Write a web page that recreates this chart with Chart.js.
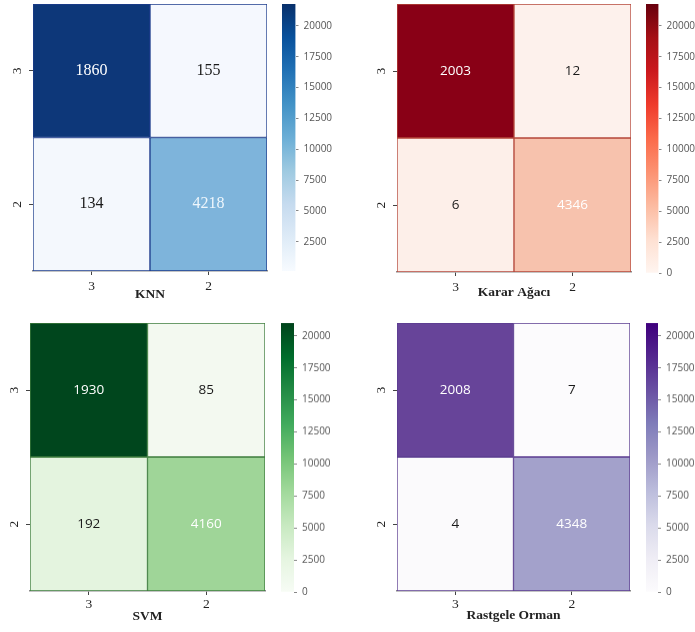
<!DOCTYPE html>
<html>
<head>
<meta charset="utf-8">
<script src="https://cdn.jsdelivr.net/npm/chart.js@4.4.0/dist/chart.umd.min.js"></script>
<style>
body { margin: 0; width: 695px; height: 632px; overflow: hidden; background: #fff; position: relative; }
canvas { position: absolute; }
</style>
</head>
<body>
<script>
// veriler
var xLabels = ['3', '2'];
var yLabels = ['3', '2'];
var basliklar = ['KNN', 'Karar Ağacı', 'SVM', 'Rastgele Orman'];
var knnValues = [[1860, 155], [134, 4218]];
var agacValues = [[2003, 12], [6, 4346]];
var svmValues = [[1930, 85], [192, 4160]];
var ormanValues = [[2008, 7], [4, 4348]];
var cbTicks = [0, 2500, 5000, 7500, 10000, 12500, 15000, 17500, 20000];
var cbMin = [134, 0, 0, 0];
var cbMax = [21780, 21770, 21000, 21000];

var matrisler = [knnValues, agacValues, svmValues, ormanValues];

// renk haritalari
var blues = ['#f7fbff', '#deebf7', '#c6dbef', '#9ecae1', '#6baed6', '#4292c6', '#2171b5', '#08519c', '#08306b'];
var reds = ['#fff5f0', '#fee0d2', '#fcbba1', '#fc9272', '#fb6a4a', '#ef3b2c', '#cb181d', '#a50f15', '#67000d'];
var greens = ['#f7fcf5', '#e5f5e0', '#c7e9c0', '#a1d99b', '#74c476', '#41ab5d', '#238b45', '#006d2c', '#00441b'];
var purples = ['#fcfbfd', '#efedf5', '#dadaeb', '#bcbddc', '#9e9ac8', '#807dba', '#6a51a3', '#54278f', '#3f007d'];

var koyu = '#1a1a1a';
var paneller = [
    { area: [33, 4, 267, 271], titleY: 295, tickPad: 3, bar: [281.5, 295], barY: [4, 271],
      cellFont: '16px "Liberation Serif"', line: '#1d3d8c', cmap: blues,
      cells: [['#0d3779', '#f5f8fe'], ['#f4f8fd', '#7eb4db']],
      text: [['#ffffff', koyu], [koyu, '#eef6fc']] },
    { area: [397, 4, 631, 272], titleY: 293, tickPad: 3, bar: [646, 658.5], barY: [4, 273],
      cellFont: '13.5px "Open Sans"', line: '#b5473b', cmap: reds,
      cells: [['#890016', '#fdf1ec'], ['#fdefe9', '#f7c2ad']],
      text: [['#ffffff', koyu], [koyu, '#ffffff']] },
    { area: [30, 323, 265, 591], titleY: 617, tickPad: 1, bar: [281, 294], barY: [323, 591.7],
      cellFont: '13.5px "Open Sans"', line: '#3e7d3e', cmap: greens,
      cells: [['#00461d', '#f3f9f0'], ['#e4f4df', '#9fd598']],
      text: [['#ffffff', koyu], [koyu, '#ffffff']] },
    { area: [397, 323, 630, 591], titleY: 616, tickPad: 1, bar: [646, 658], barY: [323, 591.7],
      cellFont: '13.5px "Open Sans"', line: '#5b3d90', cmap: purples,
      cells: [['#674499', '#fcfbfd'], ['#fbfafc', '#a3a1cb']],
      text: [['#ffffff', koyu], [koyu, '#ffffff']] }
];

var hucreYazisi = {
    id: 'hucreYazisi',
    afterDatasetsDraw: function (chart) {
        var ctx = chart.ctx;
        var p = chart.options.plugins.hucreYazisi;
        ctx.save();
        ctx.font = p.font;
        ctx.textAlign = 'center';
        ctx.textBaseline = 'middle';
        chart.data.datasets.forEach(function (ds, r) {
            chart.getDatasetMeta(r).data.forEach(function (el, j) {
                var pt = el.getCenterPoint();
                ctx.fillStyle = p.colors[r][j];
                ctx.fillText(String(ds.values[j]), pt.x, pt.y);
            });
        });
        ctx.restore();
    }
};

function yeniCanvas(left, top, w, h) {
    var c = document.createElement('canvas');
    c.width = w;
    c.height = h;
    c.style.left = left + 'px';
    c.style.top = top + 'px';
    c.style.width = w + 'px';
    c.style.height = h + 'px';
    document.body.appendChild(c);
    return c;
}

function sifirPadding(s) {
    s.paddingTop = 0;
    s.paddingBottom = 0;
    s.paddingLeft = 0;
    s.paddingRight = 0;
}

function isiHaritasi(i) {
    var p = paneller[i];
    var values = matrisler[i];
    var cl = p.area[0] - 33, ct = p.area[1] - 4;
    var w = p.area[2] + 4 - cl, h = p.titleY + 12 - ct;
    var xH = h - (p.area[3] - ct);
    var canvas = yeniCanvas(cl, ct, w, h);

    new Chart(canvas, {
        type: 'bar',
        data: {
            labels: xLabels,
            datasets: values.map(function (row, r) {
                return {
                    values: row,
                    data: row.map(function () { return [r, r + 1]; }),
                    backgroundColor: p.cells[r],
                    borderColor: p.line,
                    borderWidth: 1,
                    borderSkipped: false,
                    barPercentage: 1,
                    categoryPercentage: 1,
                    grouped: false
                };
            })
        },
        options: {
            responsive: false,
            devicePixelRatio: 1,
            animation: false,
            layout: { padding: { left: 0, top: 4, right: 4, bottom: 0 } },
            plugins: {
                legend: { display: false },
                tooltip: { enabled: false },
                hucreYazisi: { font: p.cellFont, colors: p.text }
            },
            scales: {
                x: {
                    afterFit: function (s) { s.height = xH; sifirPadding(s); },
                    grid: { offset: false, drawOnChartArea: false, tickLength: 4, color: '#444' },
                    border: { display: true, color: '#8a8a8a', width: 1.5 },
                    ticks: { color: '#222', padding: p.tickPad, font: { family: 'Liberation Serif', size: 13.5 } },
                    title: {
                        display: true,
                        text: basliklar[i],
                        color: '#222',
                        padding: { top: 0, bottom: 4 },
                        font: { family: 'Liberation Serif', size: 13.5, weight: 'bold' }
                    }
                },
                y: {
                    min: 0,
                    max: 2,
                    reverse: true,
                    afterFit: function (s) { s.width = 33; sifirPadding(s); },
                    afterBuildTicks: function (s) {
                        s.ticks = [{ value: 0.5 }, { value: 1.5 }];
                    },
                    grid: { drawOnChartArea: false, tickLength: 4, color: '#444' },
                    border: { display: false },
                    ticks: {
                        callback: function (v) { return yLabels[Math.floor(v)]; },
                        minRotation: 90,
                        maxRotation: 90,
                        crossAlign: 'center',
                        padding: 8,
                        color: '#222',
                        font: { family: 'Liberation Serif', size: 13.5 }
                    }
                }
            }
        },
        plugins: [hucreYazisi]
    });
}

function renkCubugu(i) {
    var p = paneller[i];
    var barW = p.bar[1] - p.bar[0];
    var cl = p.bar[0] - 2, ct = p.barY[0] - 4;
    var w = 72, h = p.barY[1] - ct + 8;
    var canvas = yeniCanvas(cl, ct, w, h);

    new Chart(canvas, {
        type: 'bar',
        data: {
            labels: [''],
            datasets: [{
                data: [[cbMin[i], cbMax[i]]],
                backgroundColor: function (c) {
                    var a = c.chart.chartArea;
                    if (!a) return null;
                    var g = c.chart.ctx.createLinearGradient(0, a.bottom, 0, a.top);
                    p.cmap.forEach(function (col, k) {
                        g.addColorStop(k / (p.cmap.length - 1), col);
                    });
                    return g;
                },
                borderWidth: 0,
                barPercentage: 1,
                categoryPercentage: 1
            }]
        },
        options: {
            responsive: false,
            devicePixelRatio: 1,
            animation: false,
            layout: { padding: { left: 2, top: 4, right: 0, bottom: 8 } },
            plugins: { legend: { display: false }, tooltip: { enabled: false } },
            scales: {
                x: { display: false },
                y: {
                    position: 'right',
                    min: cbMin[i],
                    max: cbMax[i],
                    afterFit: function (s) { s.width = w - 2 - barW; sifirPadding(s); },
                    afterBuildTicks: function (s) {
                        s.ticks = cbTicks.filter(function (v) { return v >= cbMin[i]; })
                            .map(function (v) { return { value: v }; });
                    },
                    grid: { drawOnChartArea: false, tickLength: 3, color: '#888' },
                    border: { display: false },
                    ticks: {
                        padding: 5,
                        color: '#555',
                        font: { family: 'Open Sans', size: 10 },
                        callback: function (v) { return String(v); }
                    }
                }
            }
        }
    });
}

for (var k = 0; k < 4; k++) {
    isiHaritasi(k);
    renkCubugu(k);
}
</script>
</body>
</html>
